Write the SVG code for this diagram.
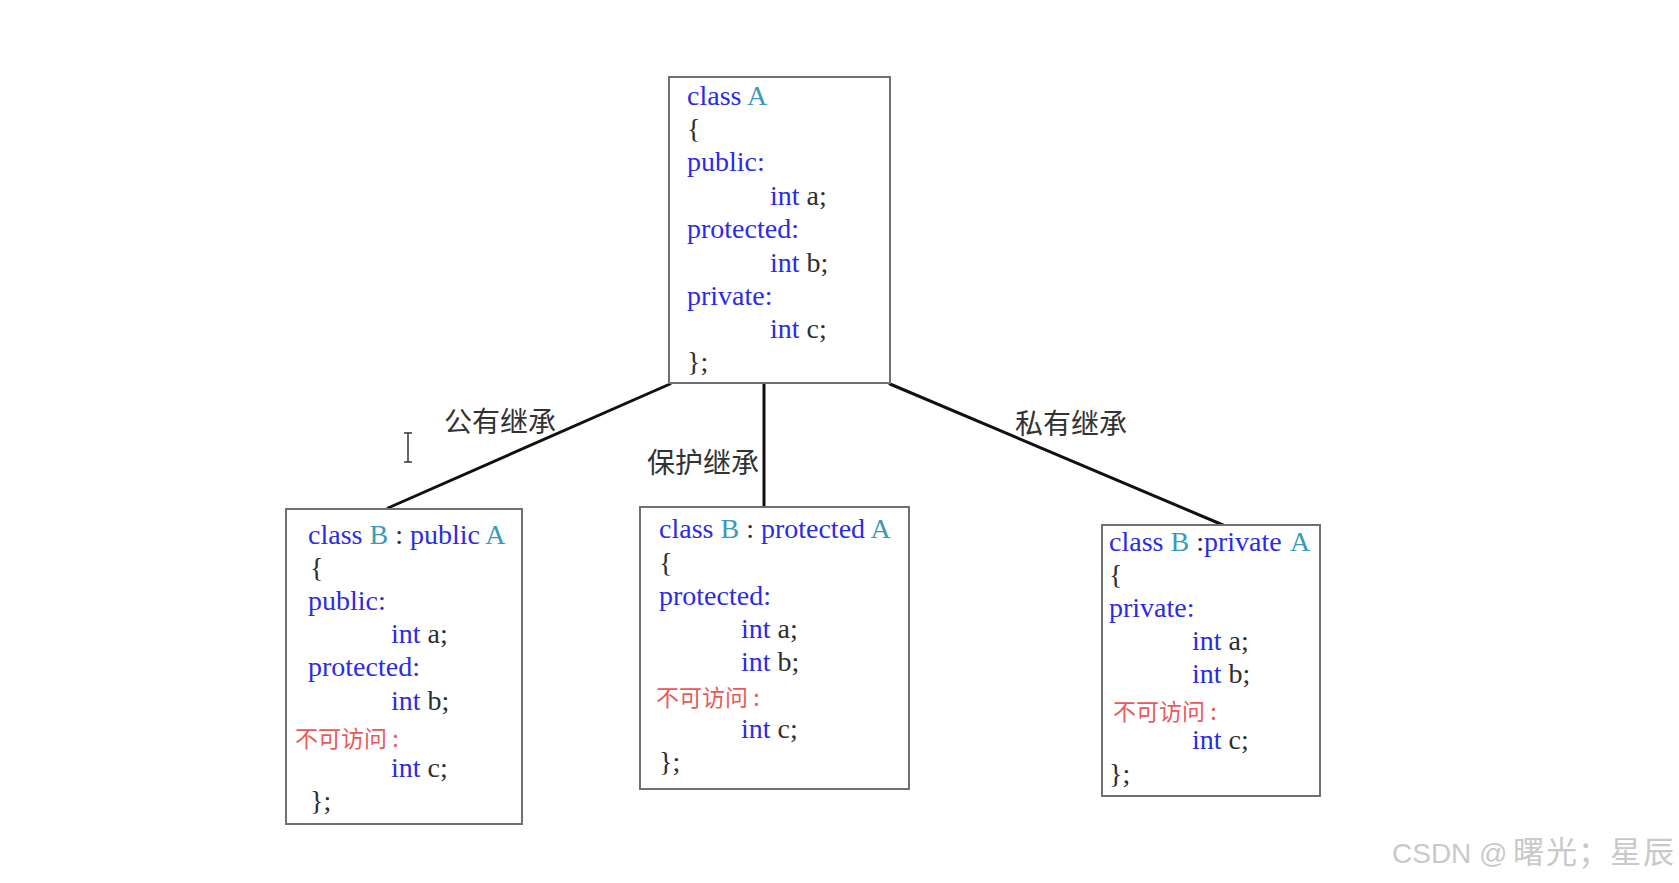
<svg xmlns="http://www.w3.org/2000/svg" width="1679" height="883" viewBox="0 0 1679 883">
<style>
.box{fill:#ffffff;stroke:#707070;stroke-width:2}
.code{font-family:"Liberation Serif","Times New Roman",serif;font-size:28px;fill:#2b2be6}
.id{fill:#3a9ab8}
.dk{fill:#2e2e2e}
.na{font-family:"Noto Sans CJK SC","Noto Sans",sans-serif;font-size:23px;fill:#e85a5a}
.lbl{font-family:"Noto Sans CJK SC","Noto Sans",sans-serif;font-size:28px;fill:#333333}
.conn{stroke:#111111;stroke-width:3;fill:none;stroke-linecap:round}
.wm{font-family:"Liberation Sans","Noto Sans CJK SC",sans-serif;font-size:28px;fill:#c9c9c9}
</style>
<rect width="1679" height="883" fill="#ffffff"/>

<g id="connectors">
  <line class="conn" x1="670" y1="384" x2="388" y2="508"/>
  <line class="conn" x1="764" y1="384" x2="764" y2="507"/>
  <line class="conn" x1="890" y1="384" x2="1223" y2="525"/>
</g>

<g id="labels">
  <text class="lbl" x="444" y="432">公有继承</text>
  <text class="lbl" x="647" y="473">保护继承</text>
  <text class="lbl" x="1015" y="434">私有继承</text>
</g>

<g id="classA">
  <rect class="box" x="669" y="77" width="221" height="306"/>
  <text class="code" x="687" y="105">class <tspan class="id">A</tspan></text>
  <text class="code dk" x="687" y="138">{</text>
  <text class="code" x="687" y="171">public:</text>
  <text class="code" x="770" y="205">int <tspan class="dk">a;</tspan></text>
  <text class="code" x="687" y="238">protected:</text>
  <text class="code" x="770" y="272">int <tspan class="dk">b;</tspan></text>
  <text class="code" x="687" y="305">private:</text>
  <text class="code" x="770" y="338">int <tspan class="dk">c;</tspan></text>
  <text class="code dk" x="687" y="371">};</text>
</g>

<g id="classB_public">
  <rect class="box" x="286" y="509" width="236" height="315"/>
  <text class="code" x="308" y="544">class <tspan class="id">B</tspan> <tspan class="dk">:</tspan> public <tspan class="id">A</tspan></text>
  <text class="code dk" x="310" y="577">{</text>
  <text class="code" x="308" y="610">public:</text>
  <text class="code" x="391" y="643">int <tspan class="dk">a;</tspan></text>
  <text class="code" x="308" y="676">protected:</text>
  <text class="code" x="391" y="710">int <tspan class="dk">b;</tspan></text>
  <text class="na" x="295" y="747">不可访问 :</text>
  <text class="code" x="391" y="777">int <tspan class="dk">c;</tspan></text>
  <text class="code dk" x="310" y="810">};</text>
</g>

<g id="classB_protected">
  <rect class="box" x="640" y="507" width="269" height="282"/>
  <text class="code" x="659" y="538">class <tspan class="id">B</tspan> <tspan class="dk">:</tspan> protected <tspan class="id">A</tspan></text>
  <text class="code dk" x="659" y="572">{</text>
  <text class="code" x="659" y="605">protected:</text>
  <text class="code" x="741" y="638">int <tspan class="dk">a;</tspan></text>
  <text class="code" x="741" y="671">int <tspan class="dk">b;</tspan></text>
  <text class="na" x="656" y="706">不可访问 :</text>
  <text class="code" x="741" y="738">int <tspan class="dk">c;</tspan></text>
  <text class="code dk" x="659" y="771">};</text>
</g>

<g id="classB_private">
  <rect class="box" x="1102" y="525" width="218" height="271"/>
  <text class="code" x="1109" y="551">class <tspan class="id">B</tspan> <tspan class="dk">:</tspan>private <tspan class="id" x="1290">A</tspan></text>
  <text class="code dk" x="1109" y="584">{</text>
  <text class="code" x="1109" y="617">private:</text>
  <text class="code" x="1192" y="650">int <tspan class="dk">a;</tspan></text>
  <text class="code" x="1192" y="683">int <tspan class="dk">b;</tspan></text>
  <text class="na" x="1113" y="720">不可访问 :</text>
  <text class="code" x="1192" y="749">int <tspan class="dk">c;</tspan></text>
  <text class="code dk" x="1109" y="783">};</text>
</g>

<g id="cursor">
  <path d="M404 433 H412 M408 433 V462 M404 462 H412" stroke="#333333" stroke-width="1.5" fill="none"/>
</g>

<g id="watermark">
  <text class="wm" x="1392" y="863">CSDN @<tspan font-family="Noto Sans CJK SC, sans-serif" font-size="31" x="1513 1546 1578 1610 1643">曙光；星辰</tspan></text>
</g>
</svg>
